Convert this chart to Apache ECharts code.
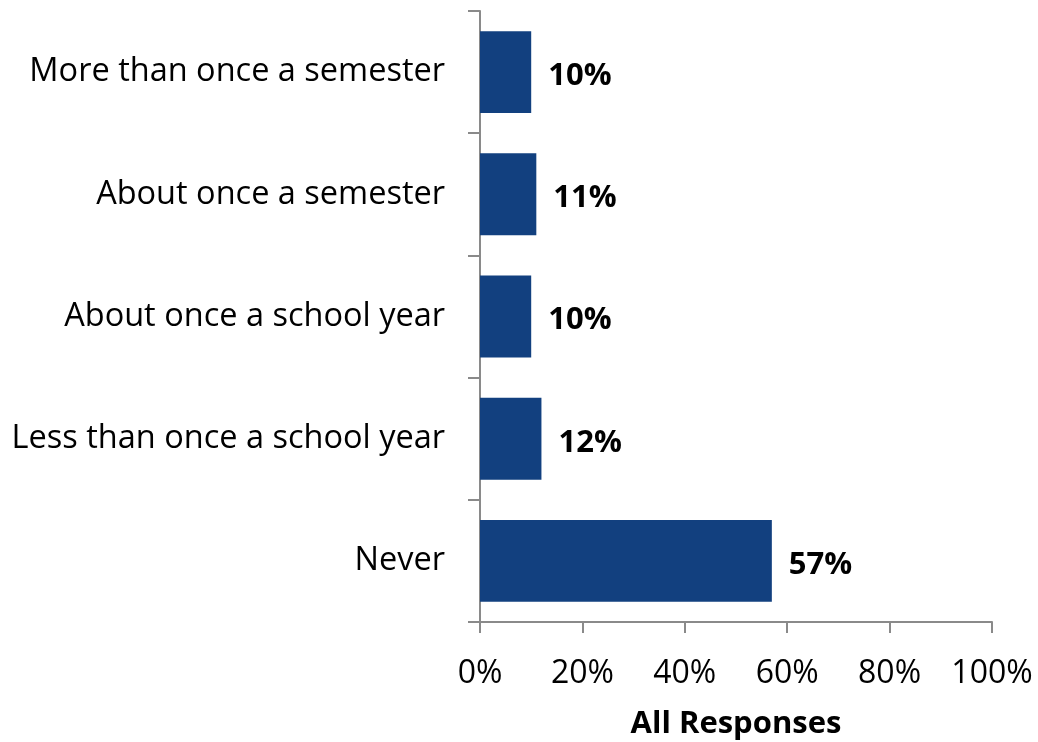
<!DOCTYPE html>
<html>
<head>
<meta charset="utf-8">
<script src="https://cdn.jsdelivr.net/npm/echarts@6/dist/echarts.min.js"></script>
<style>
  html, body { margin: 0; padding: 0; background: #ffffff; }
  #chart { width: 1038px; height: 742px; }
</style>
</head>
<body>
<div id="chart"></div>
<script>
// Survey frequency categories, listed top to bottom
const categories = [
  'More than once a semester',
  'About once a semester',
  'About once a school year',
  'Less than once a school year',
  'Never'
];
// Share of all responses (%)
const responses = [10, 11, 10, 12, 57];
const xTicks = [0, 20, 40, 60, 80, 100];

const FONT = '"Open Sans", sans-serif';
const AXIS_GRAY = '#8a8a8a';

const chart = echarts.init(document.getElementById('chart'), null, { renderer: 'canvas' });
chart.setOption({
  animation: false,
  backgroundColor: '#ffffff',
  grid: {
    left: 480, right: 46, top: 11, bottom: 120,
    containLabel: false,
    outerBoundsMode: 'none'
  },
  xAxis: {
    type: 'value',
    min: xTicks[0],
    max: xTicks[xTicks.length - 1],
    interval: xTicks[1] - xTicks[0],
    name: 'All Responses',
    nameLocation: 'middle',
    nameGap: 87,
    nameTextStyle: { fontFamily: FONT, fontWeight: 'bold', fontSize: 31, color: '#000' },
    axisLine: { show: true, lineStyle: { color: AXIS_GRAY, width: 2 } },
    axisTick: { show: true, length: 11, lineStyle: { color: AXIS_GRAY, width: 2 } },
    splitLine: { show: false },
    axisLabel: {
      margin: 36, fontFamily: FONT, fontSize: 32, color: '#000',
      formatter: v => v + '%'
    }
  },
  yAxis: {
    type: 'category',
    inverse: true,
    data: categories,
    axisLine: { show: true, lineStyle: { color: AXIS_GRAY, width: 2 } },
    axisTick: { show: true, length: 12, lineStyle: { color: AXIS_GRAY, width: 2 } },
    axisLabel: {
      margin: 35, fontFamily: FONT, fontSize: 32.5, color: '#000',
      padding: [8, 0, 0, 0]
    }
  },
  series: [{
    type: 'bar',
    data: responses,
    barCategoryGap: '33%',
    itemStyle: { color: '#12407f' },
    label: {
      show: true,
      position: 'right',
      distance: 17,
      offset: [0, 4],
      fontFamily: FONT,
      fontWeight: 'bold',
      fontSize: 31,
      color: '#000',
      formatter: p => p.value + '%'
    }
  }]
});
</script>
</body>
</html>
